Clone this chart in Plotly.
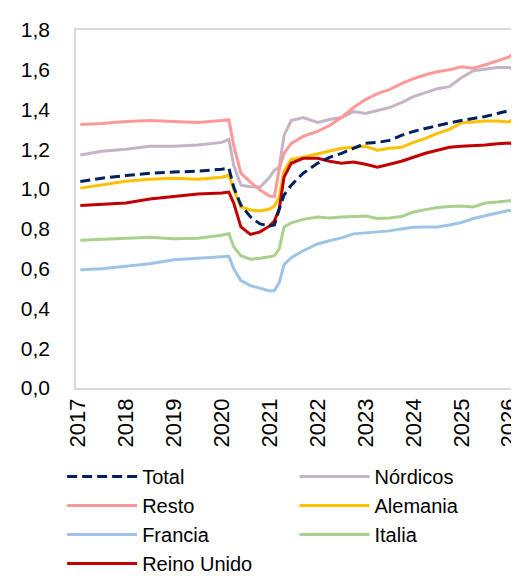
import plotly.graph_objects as go

# time axis (decimal years)
years = [2017.05, 2017.5, 2018.0, 2018.5, 2019.0, 2019.5, 2020.0, 2020.15, 2020.25, 2020.4,
         2020.6, 2020.8, 2021.0, 2021.1, 2021.2, 2021.3, 2021.45, 2021.7, 2022.0, 2022.25,
         2022.5, 2022.75, 2023.0, 2023.25, 2023.5, 2023.75, 2024.0, 2024.25, 2024.5, 2024.75,
         2025.0, 2025.25, 2025.5, 2025.75, 2026.0, 2026.1]

total = [1.038, 1.055, 1.068, 1.08, 1.086, 1.09, 1.10, 1.105, 1.01, 0.92,
         0.86, 0.825, 0.815, 0.82, 0.90, 0.97, 1.02, 1.08, 1.13, 1.16,
         1.18, 1.205, 1.23, 1.235, 1.245, 1.27, 1.29, 1.305, 1.32, 1.333,
         1.345, 1.355, 1.365, 1.38, 1.395, 1.405]

nordicos = [1.172, 1.19, 1.20, 1.215, 1.215, 1.222, 1.235, 1.25, 1.12, 1.02,
            1.012, 1.01, 1.06, 1.095, 1.11, 1.27, 1.345, 1.36, 1.335, 1.35,
            1.36, 1.39, 1.38, 1.395, 1.41, 1.435, 1.465, 1.485, 1.505, 1.515,
            1.56, 1.595, 1.605, 1.612, 1.612, 1.598]

resto = [1.325, 1.33, 1.34, 1.345, 1.34, 1.335, 1.345, 1.348, 1.22, 1.08,
         1.035, 0.995, 0.965, 0.963, 1.10, 1.18, 1.23, 1.265, 1.29, 1.32,
         1.36, 1.41, 1.45, 1.48, 1.50, 1.53, 1.555, 1.575, 1.59, 1.60,
         1.615, 1.608, 1.625, 1.645, 1.665, 1.687]

alemania = [1.005, 1.02, 1.04, 1.05, 1.055, 1.05, 1.06, 1.07, 1.0, 0.91,
            0.895, 0.89, 0.90, 0.915, 0.96, 1.09, 1.15, 1.16, 1.178, 1.19,
            1.205, 1.21, 1.215, 1.195, 1.205, 1.21, 1.235, 1.255, 1.28, 1.30,
            1.333, 1.338, 1.343, 1.343, 1.338, 1.355]

francia = [0.595, 0.60, 0.612, 0.625, 0.645, 0.652, 0.66, 0.662, 0.60, 0.54,
           0.515, 0.50, 0.488, 0.49, 0.53, 0.62, 0.655, 0.69, 0.725, 0.74,
           0.755, 0.775, 0.78, 0.782, 0.79, 0.80, 0.808, 0.81, 0.81, 0.82,
           0.832, 0.852, 0.867, 0.88, 0.893, 0.888]

italia = [0.743, 0.748, 0.752, 0.758, 0.75, 0.753, 0.768, 0.777, 0.71, 0.665,
          0.648, 0.652, 0.66, 0.665, 0.70, 0.81, 0.83, 0.848, 0.86, 0.855,
          0.86, 0.862, 0.865, 0.852, 0.855, 0.862, 0.885, 0.897, 0.908, 0.913,
          0.915, 0.91, 0.93, 0.935, 0.942, 0.94]

reino_unido = [0.918, 0.925, 0.93, 0.95, 0.962, 0.975, 0.98, 0.985, 0.93, 0.81,
               0.772, 0.785, 0.815, 0.84, 0.90, 1.06, 1.13, 1.155, 1.155, 1.14,
               1.13, 1.136, 1.125, 1.11, 1.125, 1.14, 1.16, 1.18, 1.195, 1.21,
               1.215, 1.218, 1.222, 1.228, 1.232, 1.222]

year_ticks = [2017, 2018, 2019, 2020, 2021, 2022, 2023, 2024, 2025, 2026]
year_labels = ["2017", "2018", "2019", "2020", "2021", "2022", "2023", "2024", "2025", "2026"]
y_ticks = [0.0, 0.2, 0.4, 0.6, 0.8, 1.0, 1.2, 1.4, 1.6, 1.8]
y_labels = ["0,0", "0,2", "0,4", "0,6", "0,8", "1,0", "1,2", "1,4", "1,6", "1,8"]

# (name, values, colour, dash, legend column)
series = [
    ("Total", total, "#002060", "10px,5px", "legend"),
    ("Nórdicos", nordicos, "#C4B4C4", "solid", "legend2"),
    ("Resto", resto, "#FF9999", "solid", "legend"),
    ("Alemania", alemania, "#FFC000", "solid", "legend2"),
    ("Francia", francia, "#9DC3E6", "solid", "legend"),
    ("Italia", italia, "#A9D18E", "solid", "legend2"),
    ("Reino Unido", reino_unido, "#C00000", "solid", "legend"),
]

fig = go.Figure()
# draw order: back to front (Total on top)
order = ["Nórdicos", "Resto", "Francia", "Italia", "Alemania", "Reino Unido", "Total"]
names = [s[0] for s in series]
lookup = {s[0]: s for s in series}
for name in order:
    n, vals, color, dash, leg = lookup[name]
    fig.add_trace(go.Scatter(
        x=years, y=vals, name=n, mode="lines",
        line=dict(color=color, width=3, dash=dash),
        legend=leg, legendrank=names.index(n) + 1,
    ))

font = "Liberation Sans, Arial, sans-serif"
legend_common = dict(
    orientation="v", xref="paper", yref="container", xanchor="left",
    y=0.2205, yanchor="top", itemwidth=70,
    font=dict(family=font, size=20), tracegroupgap=0,
    traceorder="normal", bgcolor="rgba(0,0,0,0)",
)
fig.update_layout(
    width=519, height=576,
    margin=dict(l=68, r=6, t=22, b=196),
    plot_bgcolor="white", paper_bgcolor="white",
    font=dict(family=font, size=21, color="#000000"),
    showlegend=True,
    legend=dict(x=-0.0315, **legend_common),
    legend2=dict(x=0.4966, **legend_common),
    xaxis=dict(
        range=[2016.96, 2026.14], tickmode="array", tickvals=year_ticks, ticktext=year_labels,
        tickangle=-90, showgrid=False, zeroline=False,
        showline=True, mirror=True, linecolor="#D9D9D9", linewidth=1.5,
        ticks="", tickfont=dict(size=22),
    ),
    yaxis=dict(
        range=[0, 1.8], tickmode="array", tickvals=y_ticks, ticktext=y_labels,
        showgrid=False, zeroline=False,
        showline=True, mirror=True, linecolor="#D9D9D9", linewidth=1.5,
        ticks="", tickfont=dict(size=21), ticklabelstandoff=20,
    ),
)

fig.write_html("out.html")
